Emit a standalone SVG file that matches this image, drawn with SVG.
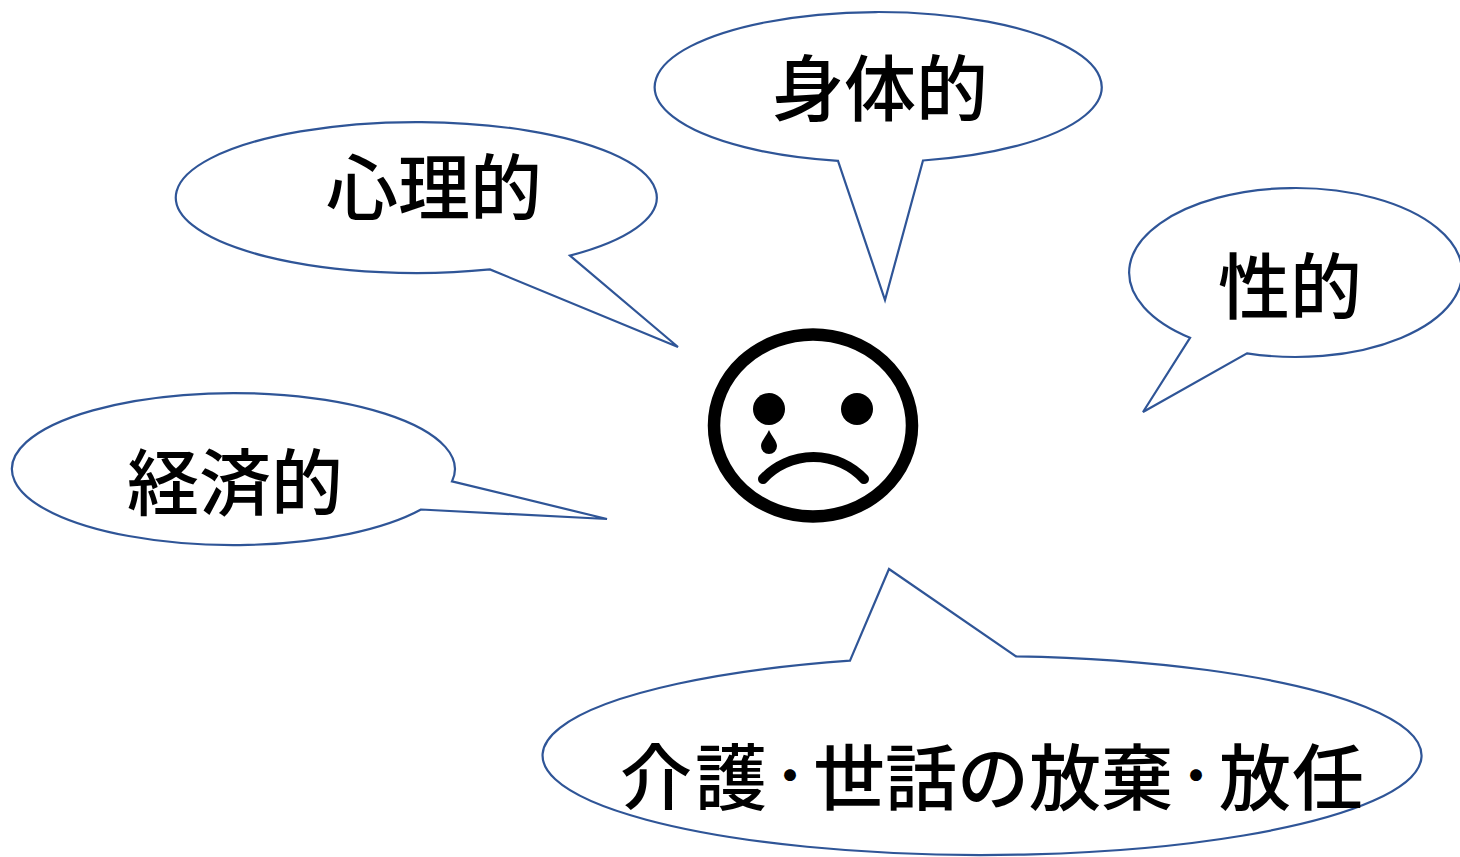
<svg xmlns="http://www.w3.org/2000/svg" width="1460" height="857" viewBox="0 0 1460 857">
<style>
.bubble{fill:#ffffff;stroke:#2F5597;stroke-width:2.2;stroke-linejoin:miter}
.lbl{font-family:"Noto Sans CJK JP","Noto Sans CJK SC",sans-serif;font-size:72px;font-weight:500;fill:#000000;text-anchor:middle;dominant-baseline:central}
.dot{font-size:46px;font-weight:700}
</style>
<rect x="0" y="0" width="1460" height="857" fill="#ffffff"/>
<g id="connectors"></g>
<g id="face">
<ellipse cx="813" cy="425.5" rx="99" ry="91" fill="none" stroke="#000" stroke-width="12.5"/>
<circle cx="769" cy="409" r="16" fill="#000"/>
<circle cx="857" cy="409" r="16" fill="#000"/>
<path d="M769,430 C766,437 761,441 761,446 A8,8 0 0 0 777,446 C777,441 772,437 769,430 Z" fill="#000"/>
<path d="M763,479 A69,69 0 0 1 864,479" fill="none" stroke="#000" stroke-width="10" stroke-linecap="round"/>
</g>
<g id="shinri">
<path class="bubble" d="M570,255.6 L678,347 L490,269.4 A240.5,75.5 0 1 1 570,255.6 Z"/>
<text class="lbl" x="434" y="182">心理的</text>
</g>
<g id="shintai">
<path class="bubble" d="M838,160.8 L885,300 L923,160.5 A223.5,75 0 1 0 838,160.8 Z"/>
<text class="lbl" x="880" y="83">身体的</text>
</g>
<g id="sei">
<path class="bubble" d="M1190,337.8 L1143,412 L1247,353.3 A166.5,84.5 0 1 0 1190,337.8 Z"/>
<text class="lbl" x="1290" y="281">性的</text>
</g>
<g id="keizai">
<path class="bubble" d="M452,481.4 L607,519 L421,509.5 A221.5,76 0 1 1 452,481.4 Z"/>
<text class="lbl" x="235" y="477">経済的</text>
</g>
<g id="kaigo">
<path class="bubble" d="M850,660.6 L889,569 L1016,656.3 A439.5,99.5 0 1 1 850,660.6 Z"/>
<text class="lbl" y="772"><tspan x="656">介</tspan><tspan x="731">護</tspan><tspan class="dot" x="790">・</tspan><tspan x="849">世</tspan><tspan x="921">話</tspan><tspan x="993">の</tspan><tspan x="1065">放</tspan><tspan x="1137">棄</tspan><tspan class="dot" x="1196">・</tspan><tspan x="1255">放</tspan><tspan x="1328">任</tspan></text>
</g>
</svg>
